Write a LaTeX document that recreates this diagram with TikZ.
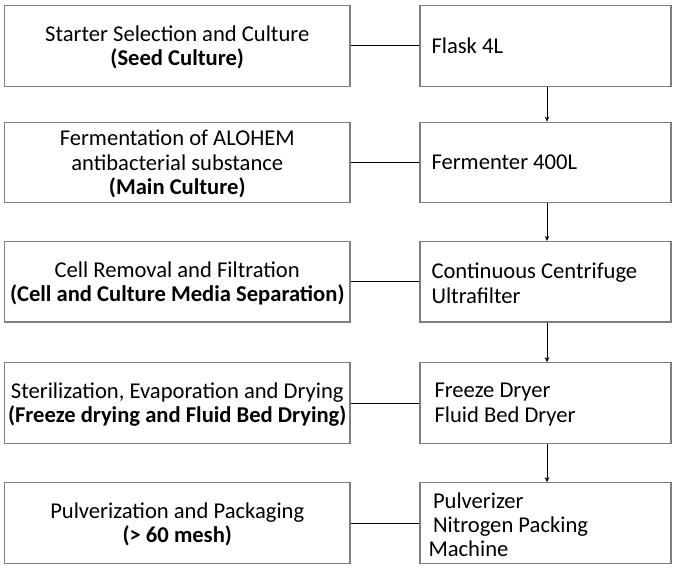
\documentclass[tikz,border=0pt]{standalone}
\usepackage{fontspec}
\setmainfont{Carlito}
\usetikzlibrary{arrows.meta}
\definecolor{boxgray}{HTML}{7F7F7F}
\begin{document}
\begin{tikzpicture}[x=1pt,y=1pt,
  every node/.style={font=\fontsize{22.6}{24.2}\selectfont},
  leftbox/.style={draw=boxgray,line width=1.2pt,minimum width=345.5pt,minimum height=80.5pt,inner sep=0pt},
  rightbox/.style={draw=boxgray,line width=1.2pt,minimum width=251pt,minimum height=80.5pt,inner sep=0pt},
  lefttext/.style={text width=341.5pt,align=flush center,inner sep=0pt},
  righttext/.style={text width=229pt,align=flush left,inner sep=0pt},
  link/.style={draw=black,line width=0.9pt},
  flow/.style={draw=black,line width=0.9pt,-{Stealth[length=5pt,width=4.5pt]}}]
\useasboundingbox (0,0) rectangle (678,-571);
\foreach \i/\y in {1/-45.9,2/-162.5,3/-281.7,4/-403,5/-523} {
  \node[leftbox] (l\i) at (177.25,\y) {};
  \node[rightbox] (r\i) at (545.5,\y) {};
}
\node[lefttext] (lt1) at ([yshift=-1.5pt]l1.center) {Starter Selection and Culture\\\textbf{(Seed Culture)}};
\node[lefttext] (lt2) at ([yshift=-1.5pt]l2.center) {Fermentation of ALOHEM\\antibacterial substance\\\textbf{(Main Culture)}};
\node[lefttext] (lt3) at ([yshift=-1.5pt]l3.center) {Cell Removal and Filtration\\\textbf{(Cell and Culture Media Separation)}};
\node[lefttext] (lt4) at ([yshift=-1.5pt]l4.center) {Sterilization, Evaporation and Drying\\\textbf{(Freeze drying and Fluid Bed Drying)}};
\node[lefttext] (lt5) at ([yshift=-1.5pt]l5.center) {Pulverization and Packaging\\\textbf{(> 60 mesh)}};
\node[righttext] (rt1) at ([xshift=0.5pt]r1.center) {Flask 4L};
\node[righttext] (rt2) at ([xshift=0.5pt]r2.center) {Fermenter 400L};
\node[righttext] (rt3) at ([xshift=0.5pt,yshift=-1.5pt]r3.center) {Continuous Centrifuge\\Ultrafilter};
\node[righttext] (rt4) at ([xshift=0.5pt,yshift=-1.5pt]r4.center) {\hspace*{3pt}Freeze Dryer\\\hspace*{3pt}Fluid Bed Dryer};
\node[righttext] (rt5) at ([xshift=0.5pt,yshift=-1.5pt]r5.center) {\hspace*{1.5pt}Pulverizer\\\hspace*{1.5pt}Nitrogen Packing\\\hspace*{-3pt}Machine};
\foreach \i in {1,...,5} {\draw[link] (l\i.east) -- (r\i.west);}
\foreach \i/\j in {1/2,2/3,3/4,4/5} {\draw[flow] ([xshift=1.5pt]r\i.south) -- ([xshift=1.5pt]r\j.north);}
\end{tikzpicture}
\end{document}
